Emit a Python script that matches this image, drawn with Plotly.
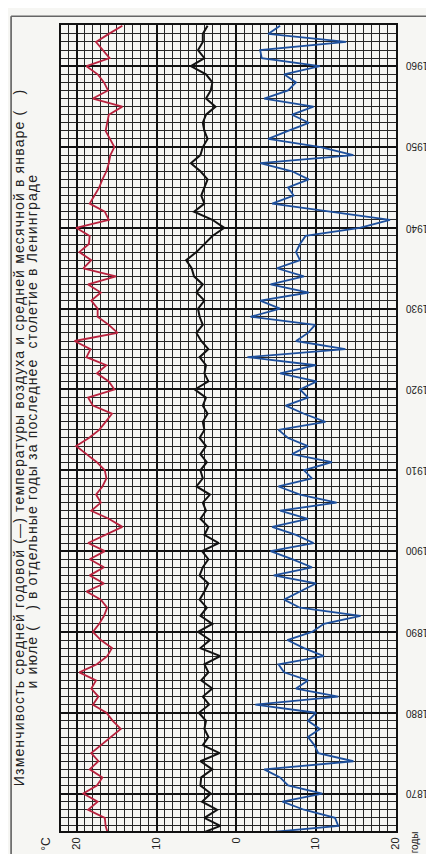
import plotly.graph_objects as go

years = list(range(1865, 1966))

july = [16.1, 16.4, 16.5, 18.6, 17.4, 19.2, 17.5, 16.8, 18.4, 17.3,
        18.2, 17.0, 15.8, 14.5, 15.5, 16.3, 18.0, 17.3, 18.2, 17.6,
        19.7, 17.5, 16.2, 15.6, 17.0, 18.0, 17.2, 16.6, 16.2, 17.0,
        18.8, 16.6, 18.4, 16.6, 18.4, 16.5, 18.6, 16.5, 14.3, 16.0,
        18.2, 17.0, 17.6, 16.8, 16.3, 16.5, 17.5, 18.8, 20.1, 18.5,
        17.2, 16.4, 15.6, 18.0, 18.6, 15.3, 16.0, 17.5, 16.3, 18.8,
        18.3, 20.3, 14.9, 16.0, 17.4, 17.4,
        18.2, 17.0, 18.6, 15.1, 19.2, 18.2, 19.7, 18.5, 18.4, 20.1,
        16.0, 16.5, 18.4, 17.8, 17.2, 16.8, 16.3, 16.0, 15.8, 15.3,
        15.8, 16.4, 16.2, 16.0, 14.3, 18.0, 16.1, 16.6, 17.4, 18.8,
        15.9, 16.8, 17.6, 16.0, 14.3]

annual = [4.6, 2.0, 4.0, 2.4, 4.3, 3.2, 4.5, 4.4, 3.0, 4.5,
          2.1, 4.2, 3.5, 4.0, 3.8, 4.7, 3.4, 4.2, 3.0, 4.4,
          3.5, 4.0, 2.0, 4.5, 3.3, 4.8, 3.0, 4.5, 3.7, 4.6,
          4.0, 3.5, 4.6, 4.2, 3.5, 4.3, 2.2, 4.0, 3.5, 4.5,
          3.8, 4.2, 3.3, 5.0, 4.2, 4.5, 3.7, 4.5, 3.8, 4.6,
          4.0, 4.2, 3.6, 4.2, 3.8, 5.2, 3.5, 4.0, 3.8, 4.6,
          3.5, 4.4, 5.0, 4.2, 4.6, 4.8, 4.0, 5.0, 4.2, 5.3,
          5.6, 6.3, 5.0, 4.0, 3.0, 1.5, 3.0, 5.3, 4.0, 4.4,
          4.0, 3.6, 4.5, 5.7, 4.5, 4.2, 3.6, 4.0, 4.2, 3.8,
          2.6, 3.8, 3.2, 3.0, 3.8, 5.7, 4.0, 4.8, 4.2, 4.2,
          3.6]

january = [-1.8, -12.8, -12.4, -8.5, -5.8, -10.8, -6.5, -5.5, -3.5, -14.7,
           -10.3, -9.8, -9.0, -10.5, -9.0, -10.0, -2.4, -12.8, -7.5, -9.0,
           -6.0, -5.3, -11.0, -8.5, -6.4, -9.5, -11.0, -15.6, -8.0, -6.0,
           -8.0, -10.0, -4.7, -9.5, -7.0, -4.3, -9.7, -7.5, -4.5, -9.0,
           -5.5, -12.6, -8.0, -5.3, -9.5, -8.5, -12.0, -7.0, -9.0, -6.5,
           -5.3, -11.2, -8.5, -6.2, -9.0, -8.0, -10.1, -5.5, -10.0, -1.4,
           -13.7, -7.5, -9.0, -9.9, -1.8,
           -5.5, -3.0, -9.1, -4.3, -8.5, -5.1, -8.0, -7.5, -8.0, -8.7,
           -15.5, -19.3, -12.0, -4.5, -7.2, -6.5, -9.1, -7.0, -3.0, -14.7,
           -10.6, -4.0, -6.5, -9.1, -7.0, -9.7, -3.5, -6.5, -7.5, -6.0,
           -10.5, -3.2, -3.0, -13.8, -4.0, -5.5]

temp_ticks = [20, 10, 0, -10, -20]
temp_labels = ["20", "10", "0", "10", "20"]
year_ticks = list(range(1870, 1961, 10))
year_labels = [str(y) for y in year_ticks]

title_1 = "Изменчивость средней годовой (—) температуры воздуха и средней месячной в январе (   )"
title_2 = "и июле (   ) в отдельные годы за последнее  столетие в Ленинграде"

fig = go.Figure()
fig.add_trace(go.Scatter(x=july, y=years, mode="lines",
                         line=dict(color="#b8213d", width=1.8)))
fig.add_trace(go.Scatter(x=annual, y=years, mode="lines",
                         line=dict(color="#111111", width=2)))
fig.add_trace(go.Scatter(x=january, y=years, mode="lines",
                         line=dict(color="#1d4f9c", width=1.8)))

paper = "#f6f6f3"
fig.update_layout(
    width=434, height=854,
    margin=dict(l=53, r=46, t=17, b=19),
    paper_bgcolor=paper, plot_bgcolor=paper,
    showlegend=False,
    font=dict(family="Liberation Sans, Arial, sans-serif", color="#222222"),
)

fig.update_xaxes(
    range=[22, -20.05],
    tickvals=temp_ticks, ticktext=temp_labels,
    tickangle=-90, tickfont=dict(size=11),
    showgrid=True, gridcolor="#111111", gridwidth=2,
    minor=dict(dtick=1, tick0=0, showgrid=True, gridcolor="#262626", gridwidth=1),
    showline=True, linecolor="#111111", linewidth=2, mirror=True,
    zeroline=False, ticks="",
)
fig.update_yaxes(
    range=[1865.37, 1965.1],
    tickvals=year_ticks, showticklabels=False,
    showgrid=True, gridcolor="#111111", gridwidth=2,
    minor=dict(dtick=1, tick0=1870, showgrid=True, gridcolor="#262626", gridwidth=1),
    showline=True, linecolor="#111111", linewidth=2, mirror=True,
    zeroline=False, ticks="",
)

# year labels, turned upside down as in the scan
for yv, lab in zip(year_ticks, year_labels):
    fig.add_annotation(text=lab, xref="paper", yref="y", x=1.063, y=yv,
                       textangle=180, showarrow=False,
                       xanchor="center", yanchor="middle",
                       font=dict(size=10, family="Liberation Sans Narrow, Arial Narrow, sans-serif"))

spaced = '<span style="letter-spacing:1.15px">{}</span>'
fig.add_annotation(text=spaced.format(title_1), xref="paper", yref="paper",
                   x=-0.127, y=0.488, textangle=-90, showarrow=False,
                   xanchor="center", yanchor="middle", font=dict(size=14))
fig.add_annotation(text=spaced.format(title_2), xref="paper", yref="paper",
                   x=-0.086, y=0.496, textangle=-90, showarrow=False,
                   xanchor="center", yanchor="middle", font=dict(size=14))
fig.add_annotation(text="°C", xref="paper", yref="paper",
                   x=-0.045, y=-0.016, textangle=-90, showarrow=False,
                   xanchor="center", yanchor="middle", font=dict(size=12))
fig.add_annotation(text="годы", xref="paper", yref="paper",
                   x=1.054, y=-0.014, textangle=-90, showarrow=False,
                   xanchor="center", yanchor="middle", font=dict(size=10))

# page edges of the scan
fig.add_shape(type="line", xref="paper", yref="paper",
              x0=-0.149, x1=-0.149, y0=-0.03, y1=1.011,
              line=dict(color="#555555", width=1.5))
fig.add_shape(type="line", xref="paper", yref="paper",
              x0=-0.149, x1=1.137, y0=1.011, y1=1.011,
              line=dict(color="#666666", width=1.5))

fig.write_html("out.html")
